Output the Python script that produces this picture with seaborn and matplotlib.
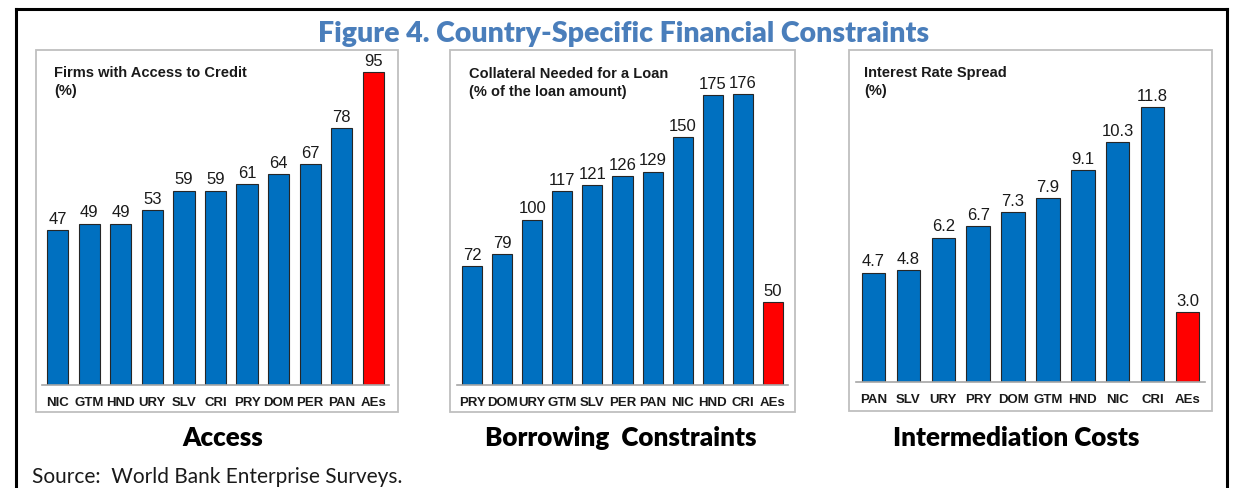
import matplotlib
matplotlib.use("Agg")
import matplotlib.pyplot as plt
from matplotlib.patches import Rectangle
from matplotlib.lines import Line2D
import seaborn as sns
import pandas as pd

# ---- data -------------------------------------------------------------
access_countries = ["NIC", "GTM", "HND", "URY", "SLV", "CRI", "PRY", "DOM", "PER", "PAN", "AEs"]
access_values = [47, 49, 49, 53, 59, 59, 61, 64, 67, 78, 95]

collateral_countries = ["PRY", "DOM", "URY", "GTM", "SLV", "PER", "PAN", "NIC", "HND", "CRI", "AEs"]
collateral_values = [72, 79, 100, 117, 121, 126, 129, 150, 175, 176, 50]

spread_countries = ["PAN", "SLV", "URY", "PRY", "DOM", "GTM", "HND", "NIC", "CRI", "AEs"]
spread_values = [4.7, 4.8, 6.2, 6.7, 7.3, 7.9, 9.1, 10.3, 11.8, 3.0]

panel_titles = ["Firms with Access to Credit\n(%)",
                "Collateral Needed for a Loan\n(% of the loan amount)",
                "Interest Rate Spread\n(%)"]
panel_captions = ["Access", "Borrowing  Constraints", "Intermediation Costs"]
figure_title = "Figure 4. Country-Specific Financial Constraints"
source_note = "Source:  World Bank Enterprise Surveys."

# ---- styling ----------------------------------------------------------
BLUE = "#0070C0"
RED = "#FF0000"
W, H = 1235, 489

sns.set_theme(style="white")
plt.rcParams["font.family"] = ["Liberation Sans", "DejaVu Sans"]

fig = plt.figure(figsize=(W / 100, H / 100), dpi=100)
fig.patch.set_facecolor("white")


def rect(x0, y0, x1, y1):
    """Pixel box (top-left origin) -> figure fraction [l, b, w, h]."""
    return [x0 / W, 1 - y1 / H, (x1 - x0) / W, (y1 - y0) / H]


def fx(x):
    return x / W


def fy(y):
    return 1 - y / H


# outer frame (open at the bottom)
frame_kw = dict(color="black", lw=2.2, transform=fig.transFigure, solid_capstyle="projecting")
fig.add_artist(Line2D([fx(16), fx(1227)], [fy(10), fy(10)], **frame_kw))
fig.add_artist(Line2D([fx(16), fx(16)], [fy(10), fy(489)], **frame_kw))
fig.add_artist(Line2D([fx(1227), fx(1227)], [fy(10), fy(489)], **frame_kw))

fig.text(fx(624), fy(42), figure_title, ha="center", va="baseline",
         fontsize=20.5, fontweight="heavy", color="#4A7EBB", family=["Lato", "DejaVu Sans"])

panels = [
    dict(cats=access_countries, vals=access_values, ylim=100, fmt="{:.0f}",
         box=(36, 51, 398, 413), ax=(42, 56.5, 389, 386), sub=(54, 82), cap=223),
    dict(cats=collateral_countries, vals=collateral_values, ylim=200, fmt="{:.0f}",
         box=(450, 51, 795, 413), ax=(457, 55, 788, 386), sub=(469, 83), cap=621),
    dict(cats=spread_countries, vals=spread_values, ylim=14, fmt="{:.1f}",
         box=(849, 51, 1212, 412), ax=(856, 57, 1205, 383), sub=(864, 82), cap=1016),
]

for i, p in enumerate(panels):
    # grey panel frame
    bx0, by0, bx1, by1 = p["box"]
    l, b, w, h = rect(bx0, by0, bx1, by1)
    fig.add_artist(Rectangle((l, b), w, h, transform=fig.transFigure,
                             fill=False, edgecolor="#BFBFBF", lw=1.3))

    ax = fig.add_axes(rect(*p["ax"]))
    df = pd.DataFrame({"country": p["cats"], "value": p["vals"]})
    colors = {c: (RED if c == "AEs" else BLUE) for c in p["cats"]}
    sns.barplot(data=df, x="country", y="value", hue="country", palette=colors,
                legend=False, width=0.67, edgecolor="#262626", linewidth=0.8,
                saturation=1, ax=ax)
    for cont in ax.containers:
        ax.bar_label(cont, labels=[p["fmt"].format(v) for v in cont.datavalues],
                     padding=3, fontsize=12, color="#1a1a1a")

    n = len(p["cats"])
    ax.set_xlim(-0.5, n - 0.5)
    ax.set_ylim(0, p["ylim"])
    ax.set_xlabel("")
    ax.set_ylabel("")
    ax.set_yticks([])
    for s in ["top", "right", "left"]:
        ax.spines[s].set_visible(False)
    ax.spines["bottom"].set_color("#A6A6A6")
    ax.spines["bottom"].set_linewidth(1.2)
    ax.set_facecolor("none")
    ax.tick_params(axis="x", which="major", length=0, pad=8)
    ax.set_xticks([k + 0.5 for k in range(-1, n)], minor=True)
    ax.tick_params(axis="x", which="minor", length=3, color="#A6A6A6", width=1, direction="out")
    for t in ax.get_xticklabels():
        t.set_fontsize(9.5)
        t.set_fontweight("bold")
        t.set_color("#1a1a1a")

    sx, sy = p["sub"]
    fig.text(fx(sx), fy(sy), panel_titles[i], ha="left", va="center",
             fontsize=10.5, fontweight="bold", color="#1a1a1a", linespacing=1.3)

    fig.text(fx(p["cap"]), fy(446), panel_captions[i], ha="center", va="baseline",
             fontsize=18.7, fontweight="heavy", color="black", family=["Lato", "DejaVu Sans"])

fig.text(fx(32), fy(483), source_note, ha="left", va="baseline",
         fontsize=15, color="#1a1a1a", family=["Lato", "DejaVu Sans"])

fig.savefig("out.png", dpi=100, facecolor="white")
